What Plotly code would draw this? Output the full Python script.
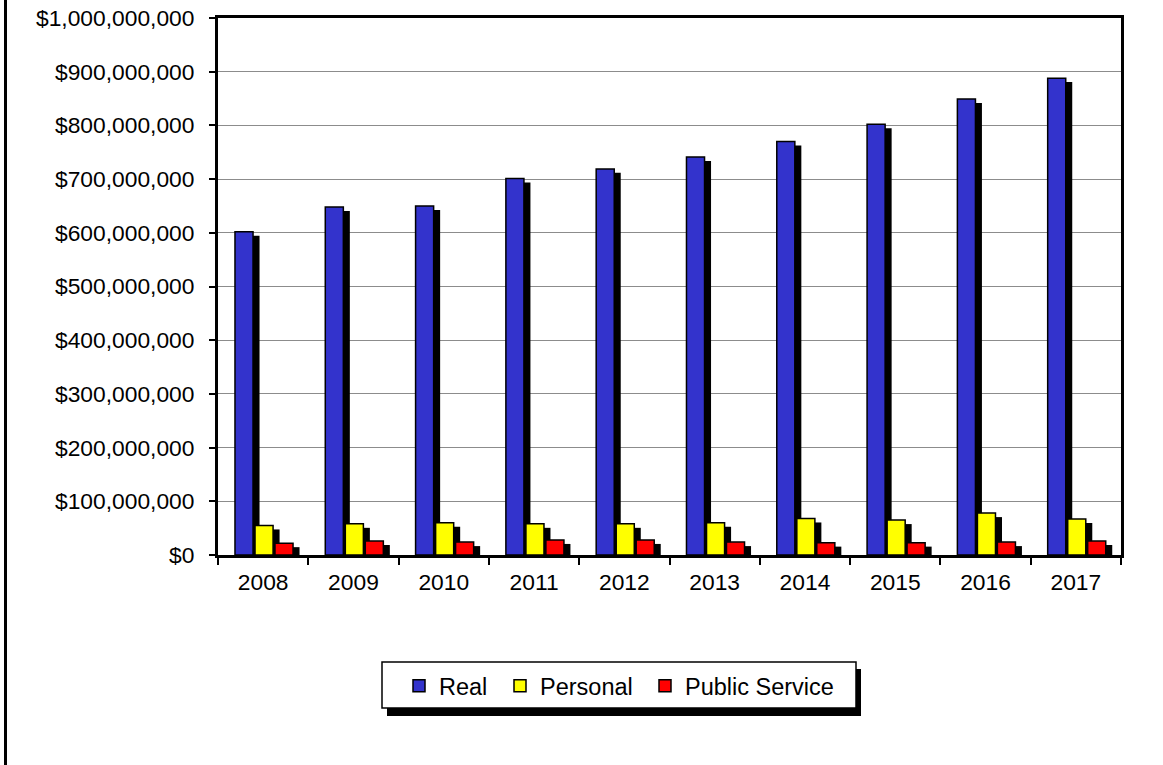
import plotly.graph_objects as go

years = ["2008", "2009", "2010", "2011", "2012", "2013", "2014", "2015", "2016", "2017"]
real = [602e6, 648e6, 650e6, 701e6, 719e6, 741e6, 770e6, 802e6, 849e6, 888e6]
personal = [55e6, 58e6, 60e6, 58e6, 58e6, 60e6, 68e6, 65e6, 78e6, 67e6]
public_service = [22e6, 26e6, 24e6, 28e6, 28e6, 24e6, 23e6, 23e6, 24e6, 26e6]

series = [
    ("Real", real, "#3333CC"),
    ("Personal", personal, "#FFFF00"),
    ("Public Service", public_service, "#FF0000"),
]
offsets = [-0.312, -0.090, 0.131]
bar_w = 0.200
shadow_dx = 0.072
shadow_dy = 7.4e6

FONT = "Arial, Liberation Sans, sans-serif"
TICK_SIZE = 22.8
LEG_SIZE = 23.5

W, H = 1163, 765
L, R, T, B = 218, 42, 18, 210
pw, ph = W - L - R, H - T - B


def px(x):
    return (x - L) / pw


def py(y):
    return (H - B - y) / ph


legend_names = ["legend", "legend2", "legend3"]
legend_sq_left = [414, 515, 660]

fig = go.Figure()
# shadows first
for (name, vals, color), off in zip(series, offsets):
    fig.add_trace(go.Bar(
        x=years, y=[max(v - shadow_dy, 0) for v in vals],
        offset=off + shadow_dx, width=bar_w,
        marker=dict(color="black", line=dict(width=0)),
        showlegend=False, hoverinfo="skip",
    ))
for (name, vals, color), off, lg in zip(series, offsets, legend_names):
    fig.add_trace(go.Bar(
        x=years, y=vals, name=name,
        offset=off, width=bar_w,
        marker=dict(color=color, line=dict(color="black", width=1.5)),
        legend=lg, showlegend=True,
    ))

legend_common = dict(
    orientation="h", xanchor="left", yanchor="middle",
    bgcolor="rgba(0,0,0,0)", borderwidth=0,
    font=dict(family=FONT, size=LEG_SIZE, color="black"),
    itemwidth=30,
)
legend_layouts = {}
for lg, sq in zip(legend_names, legend_sq_left):
    d = dict(legend_common)
    d.update(x=px(sq - 15), y=py(686))
    legend_layouts[lg] = d

fig.update_layout(
    width=W, height=H,
    margin=dict(l=L, r=R, t=T, b=B, autoexpand=False),
    paper_bgcolor="white", plot_bgcolor="white",
    barmode="overlay",
    font=dict(family=FONT, size=TICK_SIZE, color="black"),
    showlegend=True,
    shapes=[
        # legend box shadow and box
        dict(type="rect", xref="paper", yref="paper",
             x0=px(387), x1=px(861), y0=py(669), y1=py(716),
             fillcolor="black", line=dict(width=0), layer="above"),
        dict(type="rect", xref="paper", yref="paper",
             x0=px(382), x1=px(856), y0=py(662), y1=py(708),
             fillcolor="white", line=dict(color="black", width=1.5), layer="above"),
        # outer chart frame (left edge visible)
        dict(type="line", xref="paper", yref="paper",
             x0=px(5.5), x1=px(5.5), y0=py(0), y1=py(765),
             line=dict(color="black", width=3)),
    ],
    **legend_layouts,
)

fig.update_xaxes(
    type="category",
    showline=True, linecolor="black", linewidth=3, mirror=True,
    ticks="outside", ticklen=7, tickwidth=2, tickcolor="black",
    tickson="boundaries",
    showgrid=False,
    tickfont=dict(family=FONT, size=TICK_SIZE, color="black"),
    range=[-0.5, 9.5],
    ticklabelstandoff=5,
)
fig.update_yaxes(
    range=[0, 1e9], dtick=1e8, tick0=0,
    tickprefix="$", tickformat=",.0f",
    showline=True, linecolor="black", linewidth=3, mirror=True,
    ticks="outside", ticklen=6, tickwidth=2, tickcolor="black",
    showgrid=True, gridcolor="#8C8C8C", gridwidth=1,
    zeroline=False,
    tickfont=dict(family=FONT, size=TICK_SIZE, color="black"),
    ticklabelstandoff=10,
)

fig.write_html(
    "out.html",
    config={"displayModeBar": False},
    post_script="document.body.style.margin='0px';document.body.style.overflow='hidden';",
)
